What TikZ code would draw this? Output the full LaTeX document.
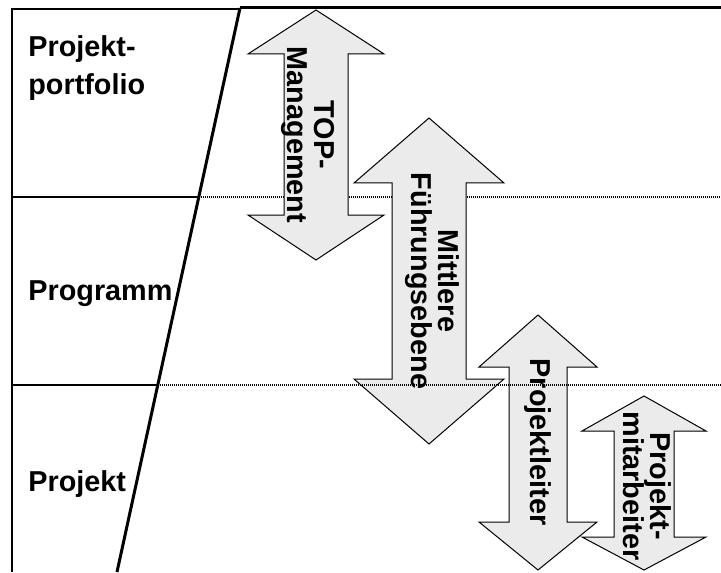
\documentclass[tikz,border=0pt]{standalone}
\usepackage{fontspec}
\setmainfont{Liberation Sans}
\usepackage{tikz}

\definecolor{arrowgray}{RGB}{235,235,235}

\tikzset{
  lbl/.style={font=\fontsize{14.4}{19}\selectfont\bfseries, align=left, anchor=base west, inner sep=0pt},
  arrowtxt/.style={font=\fontsize{14.4}{13.5}\selectfont\bfseries, align=center, rotate=-90, inner sep=0pt},
  bigarrow/.style={draw=black, line width=0.5pt, fill=arrowgray, line join=miter},
  levelline/.style={line width=0.6pt, dash pattern=on 0.5pt off 0.5pt},
}

\begin{document}
\begin{tikzpicture}[x=0.5pt,y=-0.5pt]
				\useasboundingbox (0,0) rectangle (721,572);
				
				\draw[line width=0.6pt] (12,572) -- (12,9) -- (240,9);
				\draw[line width=1.5pt] (240,8) -- (721,8);
				\draw[levelline] (185,197) -- (721,197);
				\draw[line width=1pt] (12,197) -- (199,197);
				\draw[line width=1pt] (12,385) -- (159,385);
				
				\filldraw[bigarrow] (316,10) -- (384,54) -- (348,54) -- (348,215) -- (384,215) -- (316,260) -- (248,215) -- (284,215) -- (284,54) -- (248,54) -- cycle;
				\filldraw[bigarrow] (429,118) -- (504,183) -- (466,183) -- (466,379) -- (504,379) -- (429,444) -- (354,379) -- (392,379) -- (392,183) -- (354,183) -- cycle;
				\filldraw[bigarrow] (538,315) -- (597,367) -- (567,367) -- (567,522) -- (597,522) -- (538,570) -- (479,522) -- (509,522) -- (509,367) -- (479,367) -- cycle;
				\filldraw[bigarrow] (644,396) -- (706,431) -- (674,431) -- (674,537) -- (706,537) -- (644,570) -- (582,537) -- (614,537) -- (614,431) -- (582,431) -- cycle;
				
				\draw[levelline] (130,385) -- (721,385);
				\draw[line width=1.5pt] (240,8) -- (117,572);
				
				\node[lbl] (portfolio) at (28,95) {Projekt-\\portfolio};
				\node[lbl] (programm) at (28,300) {Programm};
				\node[lbl] (projekt) at (28,491) {Projekt};
				
				\node[arrowtxt] (topmgmt) at (308,135) {TOP-\\Management};
				\node[arrowtxt] (mittlere) at (432,281) {Mittlere\\Führungsebene};
				\node[arrowtxt] (leiter) at (538,442) {Projektleiter};
				\node[arrowtxt] (mitarbeiter) at (647,486) {Projekt-\\mitarbeiter};
			\end{tikzpicture}
\end{document}
